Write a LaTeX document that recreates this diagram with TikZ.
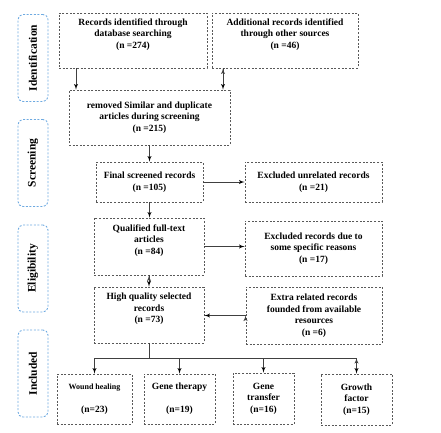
\documentclass[tikz,border=0pt]{standalone}
\usepackage{fontspec}
\setmainfont{Liberation Serif}
\usepackage{tikz}
\usetikzlibrary{arrows}
\usetikzlibrary{positioning}
\definecolor{sideblue}{RGB}{110,170,225}
\tikzset{
    block/.style={
           rectangle,
           draw=black!65, line width=0.9pt,
           dash pattern=on 2pt off 1.6pt,
           inner sep=1pt,
           align=center,
           font=\fontsize{9.5}{11.5}\selectfont\bfseries,
           },
     phase/.style={
           rectangle,
           rounded corners=5pt,
           draw=sideblue, line width=0.9pt,
           dash pattern=on 2pt off 1.6pt,
           minimum width=30pt,
           minimum height=87pt,
           inner sep=0pt,
           font=\fontsize{11.5}{13}\selectfont\bfseries,
           },
     link/.style={
           -latex', draw=black!75, line width=0.9pt,
           },
}

\begin{document}
\begin{tikzpicture}[x=1pt,y=-1pt]
	\useasboundingbox (0,0) rectangle (441,432);

	%phase column
	\node[phase] (pid) at (33,58) {\rotatebox{90}{Identification}};
	\node[phase] (psc) at (33,163) {\rotatebox{90}{Screening}};
	\node[phase] (pel) at (33,268.5) {\rotatebox{90}{Eligibility}};
	\node[phase] (pin) at (33,373.5) {\rotatebox{90}{Included}};

	%main column
	\node[block, minimum width=148pt, minimum height=55pt] (id1) at (133,40.5) {Records identified through\\ database searching\\ (n =274)\\[3pt]};
	\node[block, minimum width=146pt, minimum height=55pt] (id2) at (285,40.5) {Additional records identified\\ through other sources\\ (n =46)\\[3pt]};
	\node[block, minimum width=161pt, minimum height=55pt] (dup) at (149.5,117.5) {removed Similar and duplicate\\ articles during screening\\ (n =215)};
	\node[block, minimum width=107pt, minimum height=40pt] (scr) at (149.5,182) {Final screened records\\ (n =105)};
	\node[block, minimum width=110pt, minimum height=57pt] (qual) at (149,246.5) {Qualified full-text\\ articles\\ (n =84)\\[3pt]};
	\node[block, minimum width=110pt, minimum height=56pt] (high) at (149,315) {High quality selected\\ records\\ (n =73)\\[3pt]};

	%right column
	\node[block, minimum width=137pt, minimum height=40pt] (exc1) at (313.5,182) {Excluded unrelated records\\ (n =21)};
	\node[block, minimum width=137pt, minimum height=55pt] (exc2) at (313.5,248.5) {Excluded records due to\\ some specific reasons\\ (n =17)};
	\node[block, minimum width=136pt, minimum height=57pt] (extra) at (314,315.5) {Extra related records\\ founded from available\\ resources\\ (n =6)};

	%included row
	\node[block, minimum width=75pt, minimum height=50pt] (wound) at (94.5,399) {{\fontsize{8}{11.5}\selectfont Wound healing}\\~\\(n=23)};
	\node[block, minimum width=71pt, minimum height=50pt] (gther) at (179.5,399) {Gene therapy\\~\\(n=19)};
	\node[block, minimum width=61pt, minimum height=51pt] (gtra) at (263.5,398.5) {Gene\\ transfer\\ (n=16)};
	\node[block, minimum width=71pt, minimum height=51pt] (growth) at (356.5,399.5) {Growth\\ factor\\ (n=15)};
	\coordinate (bus) at (149,358);
	\coordinate (drop1) at (76,0);
	\coordinate (drop2) at (223,0);

	%EDGES
	\path[link]	(drop1 |- id1.south) edge (drop1 |- dup.north)
			(drop2 |- id2.south) edge (drop2 |- dup.north);
	\path[link]	(dup.south) edge (scr.north)
			(scr.south) edge (scr.south |- qual.north)
			(qual.south) edge (qual.south |- high.north);
	\path[link]	(scr.east) edge (exc1.west)
			(qual.east) edge (qual.east -| exc2.west)
			(extra.west) edge (extra.west -| high.east);

	\draw[draw=black!75, line width=0.9pt] (high.south) -- (bus) (wound.north |- bus) -- (growth.north |- bus);
	\path[link]	(wound.north |- bus) edge (wound.north)
			(gther.north |- bus) edge (gther.north)
			(gtra.north |- bus) edge (gtra.north)
			(growth.north |- bus) edge (growth.north);

\end{tikzpicture}
\end{document}
